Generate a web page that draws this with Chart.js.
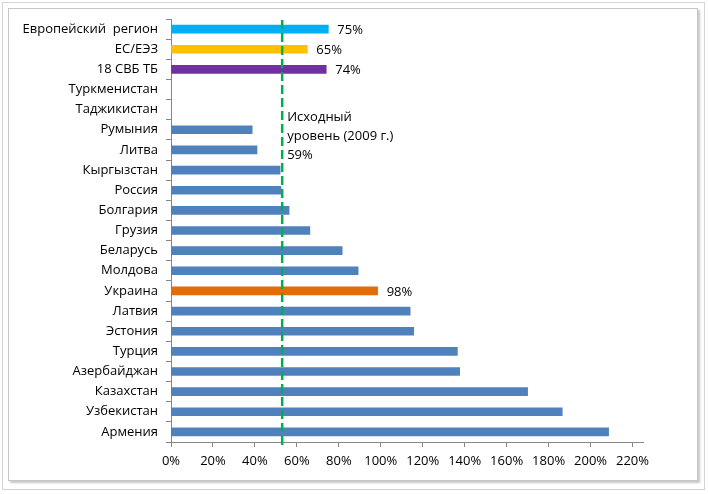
<!DOCTYPE html>
<html>
<head>
<meta charset="utf-8">
<title>Охват</title>
<script src="https://cdn.jsdelivr.net/npm/chart.js"></script>
<style>
  body { margin: 0; background: #fff; }
  #outer { position: absolute; left: 2px; top: 2px; width: 701px; height: 486px; border: 1px solid #d4d4d4; }
  #inner { position: absolute; left: 8px; top: 8px; width: 688px; height: 471px; border: 1px solid #c6c6c6; box-shadow: 2px 2px 2px #c8c8c8; background: #fff; }
  #chart { position: absolute; left: 0; top: 0; }
</style>
</head>
<body>
<div id="outer"></div>
<div id="inner"></div>
<canvas id="chart" width="708" height="494"></canvas>

<script>
    // data
    const countries = ['Европейский  регион', 'ЕС/ЕЭЗ', '18 СВБ ТБ', 'Туркменистан', 'Таджикистан',
        'Румыния', 'Литва', 'Кыргызстан', 'Россия', 'Болгария', 'Грузия', 'Беларусь', 'Молдова',
        'Украина', 'Латвия', 'Эстония', 'Турция', 'Азербайджан', 'Казахстан', 'Узбекистан', 'Армения'];
    const values = [75, 65, 74, null, null,
        38.7, 41, 52, 52.4, 56.3, 66.2, 81.6, 89.2,
        98.5, 114, 115.7, 136.5, 137.6, 170, 186.5, 208.6];
    const valueLabels = ['75%', '65%', '74%', '', '', '', '', '', '', '', '', '', '',
        '98%', '', '', '', '', '', '', ''];
    const barColors = ['#00B0F0', '#FFC000', '#7030A0', '#4F81BD', '#4F81BD',
        '#4F81BD', '#4F81BD', '#4F81BD', '#4F81BD', '#4F81BD', '#4F81BD', '#4F81BD', '#4F81BD',
        '#E36C09', '#4F81BD', '#4F81BD', '#4F81BD', '#4F81BD', '#4F81BD', '#4F81BD', '#4F81BD'];
    const xTicks = [0, 20, 40, 60, 80, 100, 120, 140, 160, 180, 200, 220];
    const baseline = 53;
    const baselineText = ['Исходный', 'уровень (2009 г.)', '59%'];

    const font = '13px "Open Sans"';

    const extras = {
        id: 'extras',
        afterDatasetsDraw(chart) {
            const ctx = chart.ctx;
            const area = chart.chartArea;
            const x = chart.scales.x;
            ctx.save();
            // labels next to some bars
            ctx.font = font;
            ctx.fillStyle = '#000';
            ctx.textBaseline = 'middle';
            ctx.textAlign = 'left';
            chart.getDatasetMeta(0).data.forEach((bar, i) => {
                if (valueLabels[i]) ctx.fillText(valueLabels[i], bar.x + 9, bar.y + 1);
            });
            // baseline dashed line
            const bx = x.getPixelForValue(baseline);
            ctx.strokeStyle = '#00B050';
            ctx.lineWidth = 2.5;
            ctx.setLineDash([9, 4]);
            ctx.beginPath();
            ctx.moveTo(bx, area.top + 1);
            ctx.lineTo(bx, area.bottom + 5);
            ctx.stroke();
            ctx.setLineDash([]);
            baselineText.forEach((t, i) => ctx.fillText(t, bx + 5, 117 + i * 19));
            ctx.restore();
        }
    };

    new Chart(document.getElementById('chart'), {
        type: 'bar',
        data: {
            labels: countries,
            datasets: [{
                data: values,
                backgroundColor: barColors,
                barThickness: 8
            }]
        },
        options: {
            indexAxis: 'y',
            responsive: false,
            animation: false,
            layout: { padding: { left: 0, top: 19, right: 65, bottom: 0 } },
            plugins: { legend: { display: false }, tooltip: { enabled: false } },
            scales: {
                x: {
                    min: 0,
                    max: 225,
                    ticks: {
                        color: '#000',
                        font: { family: 'Open Sans', size: 13 },
                        padding: 6,
                        maxRotation: 0,
                        autoSkip: false,
                        callback: v => v + '%'
                    },
                    afterBuildTicks: s => { s.ticks = xTicks.map(v => ({ value: v })); },
                    afterFit: s => { s.height = 52; },
                    grid: { drawOnChartArea: false, tickLength: 5, color: '#868686' },
                    border: { color: '#868686' }
                },
                y: {
                    ticks: {
                        color: '#000',
                        font: { family: 'Open Sans', size: 13 },
                        padding: 8,
                        autoSkip: false
                    },
                    afterFit: s => { s.width = 171; },
                    grid: { drawOnChartArea: false, tickLength: 5, color: '#868686', offset: true },
                    border: { color: '#868686' }
                }
            }
        },
        plugins: [extras]
    });
</script>
</body>
</html>
